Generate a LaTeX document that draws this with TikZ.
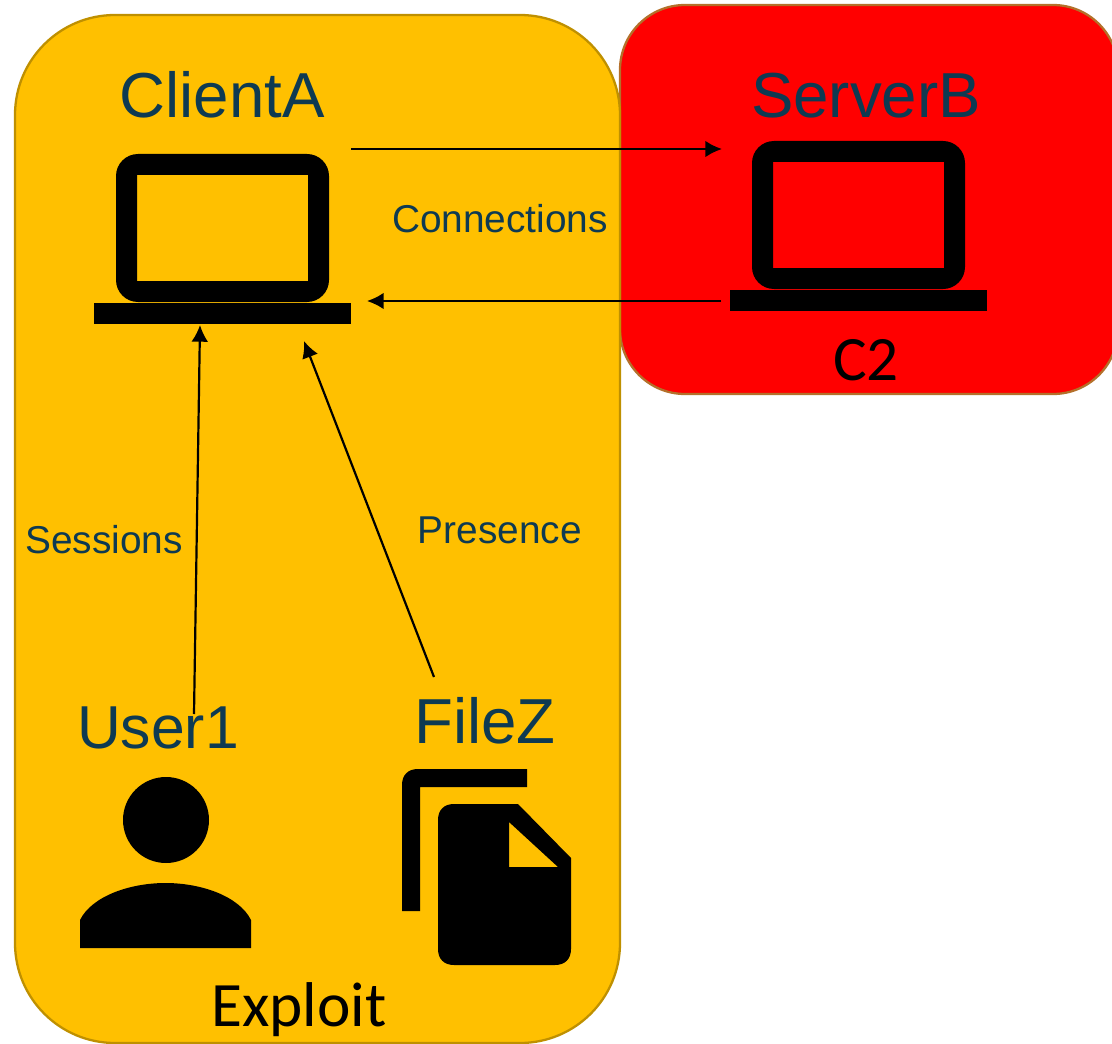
\documentclass[tikz,border=0pt]{standalone}
\usepackage{fontspec}
\setmainfont{Liberation Sans}
\newfontfamily\calibrifont{Carlito}
\usetikzlibrary{arrows.meta}
\definecolor{labelblue}{HTML}{0E3A52}
\definecolor{zoneyellow}{HTML}{FFC000}
\definecolor{yellowedge}{HTML}{BF9000}
\definecolor{rededge}{HTML}{B4702A}
\tikzset{
  bigtext/.style={inner sep=0pt,anchor=base,text=labelblue,font=\fontsize{36.2}{36}\selectfont},
  midtext/.style={inner sep=0pt,anchor=base,text=labelblue,font=\fontsize{22.1}{22}\selectfont},
  zonetext/.style={inner sep=0pt,anchor=base,text=black,font=\calibrifont\fontsize{36}{36}\selectfont},
  laptop/.pic={
    \fill[even odd rule,rounded corners=.44cm](-106.5,-74)rectangle(106.5,74)[sharp corners](-85.5,-53)rectangle(85.5,53);
    \fill(-128.5,75)rectangle(128.5,96);
  }
}
\begin{document}
\begin{tikzpicture}[x=.02cm,y=-.02cm,>={Latex[length=9.5pt,width=9.5pt]}]
  \useasboundingbox(0,0)rectangle(1112,1044);
  \clip(0,0)rectangle(1112,1044);
  \draw[fill=red,draw=rededge,line width=1.3pt,rounded corners=1.3cm](620,5)rectangle(1118,394);
  \draw[fill=zoneyellow,draw=yellowedge,line width=1.3pt,rounded corners=2cm](15,15)rectangle(620,1043);
  \pic at(222.5,228){laptop};
  \pic at(858.5,215){laptop};
  \fill(166,820)circle(43);
  \fill(80,948)--(80,920)..controls(92,896)and(130,883)..(165.5,883)..controls(201,883)and(239,896)..(251,920)--(251,948)--cycle;
  \fill(402,911)--(402,785)..controls(402,775)and(408,769)..(418,769)--(527,769)--(527,787)--(420,787)--(420,911)--cycle;
  \fill[even odd rule](438,820)..controls(438,810)and(444,804)..(454,804)--(518,804)--(571,858)--(571,949)..controls(571,959)and(565,965)..(555,965)--(454,965)..controls(444,965)and(438,959)..(438,949)--cycle(509,822)--(509,867)--(558,867)--cycle;
  \node[bigtext](clientname) at(222,118){ClientA};
  \node[bigtext](servername) at(866,118){ServerB};
  \node[bigtext,font=\fontsize{34.5}{36}\selectfont](username) at(158,748){User1};
  \node[bigtext](filename) at(485,743){FileZ};
  \node[midtext](connlabel) at(500,233){Connections};
  \node[midtext](sesslabel) at(104,553){Sessions};
  \node[midtext](preslabel) at(500,543){Presence};
  \node[zonetext](serverzone) at(866,380){C2};
  \node[zonetext](clientzone) at(299,1026){Exploit};
  \coordinate(clientout) at(351,149);
  \coordinate(serverin) at(722,149);
  \coordinate(serverout) at(721,301);
  \coordinate(clientin) at(367,301);
  \coordinate(userout) at(194,714);
  \coordinate(baseleft) at(200,325);
  \coordinate(fileout) at(434,677);
  \coordinate(baseright) at(304,341);
  \draw[->,line width=1.25pt](clientout)--(serverin);
  \draw[->,line width=1.25pt](serverout)--(clientin);
  \draw[->,line width=1.25pt](userout)--(baseleft);
  \draw[->,line width=1.25pt](fileout)--(baseright);
\end{tikzpicture}
\end{document}
